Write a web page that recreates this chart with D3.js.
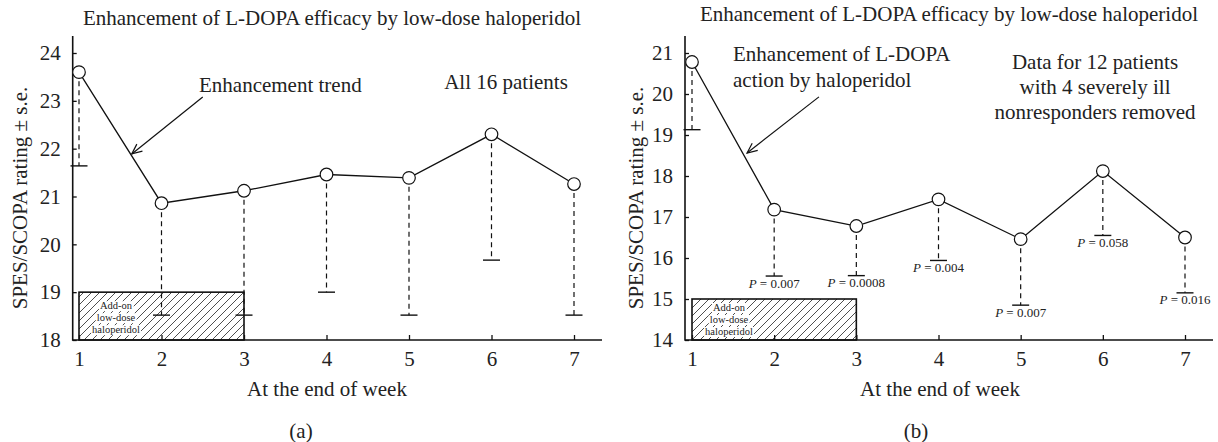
<!DOCTYPE html>
<html>
<head>
<meta charset="utf-8">
<script src="https://cdn.jsdelivr.net/npm/d3@7"></script>
<style>
  html, body { margin: 0; padding: 0; background: #fff; }
</style>
</head>
<body>
<div id="chart"></div>
<script>
"use strict";

const WIDTH = 1218, HEIGHT = 442;

// data
var weeks = [1, 2, 3, 4, 5, 6, 7];
var meanAll = [23.6, 20.86, 21.12, 21.46, 21.39, 22.3, 21.26];
var lowerAll = [21.64, 18.52, 18.52, 19.0, 18.52, 19.67, 18.52];
var meanSub = [20.78, 17.18, 16.78, 17.43, 16.46, 18.12, 16.5];
var lowerSub = [19.13, 15.56, 15.57, 15.94, 14.85, 16.55, 15.15];
var pValues = ["", "0.007", "0.0008", "0.004", "0.007", "0.058", "0.016"];
var yTicksAll = [18, 19, 20, 21, 22, 23, 24];
var yTicksSub = [14, 15, 16, 17, 18, 19, 20, 21];
var boxLines = ["Add-on", "low-dose", "haloperidol"];
var title = "Enhancement of L-DOPA efficacy by low-dose haloperidol";
var yLabel = "SPES/SCOPA rating \u00b1 s.e.";
var xLabel = "At the end of week";

const FONT = "'Liberation Serif', 'DejaVu Serif', serif";

var svg = d3.select("#chart").append("svg")
  .attr("width", WIDTH)
  .attr("height", HEIGHT)
  .attr("font-family", FONT)
  .style("display", "block");

var defs = svg.append("defs");
var hatch = defs.append("pattern")
  .attr("id", "hatch")
  .attr("patternUnits", "userSpaceOnUse")
  .attr("width", 8)
  .attr("height", 8);
hatch.append("rect").attr("width", 8).attr("height", 8).attr("fill", "#fff");
hatch.append("path")
  .attr("d", "M0,8 L8,0 M-2,2 L2,-2 M6,10 L10,6")
  .attr("stroke", "#222")
  .attr("stroke-width", 0.8);

function arrow(g, x1, y1, x2, y2) {
  var a = Math.atan2(y2 - y1, x2 - x1), len = 11, spread = 0.42;
  g.append("line")
    .attr("x1", x1).attr("y1", y1).attr("x2", x2).attr("y2", y2)
    .attr("stroke", "#111").attr("stroke-width", 1.2);
  g.append("path")
    .attr("d", "M" + (x2 - len * Math.cos(a - spread)) + "," + (y2 - len * Math.sin(a - spread)) +
      "L" + x2 + "," + y2 +
      "L" + (x2 - len * Math.cos(a + spread)) + "," + (y2 - len * Math.sin(a + spread)))
    .attr("fill", "none").attr("stroke", "#111").attr("stroke-width", 1.2);
}

function panel(o) {
  var x = d3.scaleLinear().domain([1, 7]).range(o.xRange);
  var y = d3.scaleLinear().domain(o.yDomain).range([340, 53]);
  var g = svg.append("g");

  // add-on period box
  var y0 = o.yDomain[0];
  g.append("rect")
    .attr("x", x(1)).attr("y", y(y0 + 1))
    .attr("width", x(3) - x(1)).attr("height", y(y0) - y(y0 + 1))
    .attr("fill", "url(#hatch)")
    .attr("stroke", "#111").attr("stroke-width", 1.6);
  var boxText = g.append("g");
  boxLines.forEach(function (t, i) {
    var tx = boxText.append("text")
      .attr("x", o.boxTextX).attr("y", y(y0 + 1) + o.boxTextTop + i * 12)
      .attr("text-anchor", "middle")
      .attr("font-size", 10.5)
      .attr("fill", "#222")
      .text(t);
    var bb = tx.node().getBBox();
    boxText.insert("rect", "text")
      .attr("x", bb.x - 1).attr("y", bb.y + 1)
      .attr("width", bb.width + 2).attr("height", bb.height - 1)
      .attr("fill", "#fff");
  });

  // axes
  var yAxis = d3.axisLeft(y).tickValues(o.yTicks).tickSize(-4).tickSizeOuter(0)
    .tickPadding(12).tickFormat(d3.format("d"));
  g.append("g")
    .attr("transform", "translate(" + o.axisX + ",0)")
    .call(yAxis)
    .call(function (s) { s.select(".domain").remove(); })
    .attr("font-family", FONT).attr("font-size", 21)
    .call(function (s) {
      s.selectAll("line").attr("stroke", "#111").attr("stroke-width", 1.3);
      s.selectAll("text").attr("fill", "#222");
    });
  var xAxis = d3.axisBottom(x).tickValues(weeks).tickSize(-5).tickSizeOuter(0)
    .tickPadding(11).tickFormat(d3.format("d"));
  g.append("g")
    .attr("transform", "translate(0,340)")
    .call(xAxis)
    .call(function (s) { s.select(".domain").remove(); })
    .attr("font-family", FONT).attr("font-size", 21)
    .call(function (s) {
      s.selectAll("line").attr("stroke", "#111").attr("stroke-width", 1.3);
      s.selectAll("text").attr("fill", "#222");
    });
  g.append("line")
    .attr("x1", o.axisX).attr("y1", 36).attr("x2", o.axisX).attr("y2", 340.7)
    .attr("stroke", "#111").attr("stroke-width", 1.6);
  g.append("line")
    .attr("x1", o.axisX).attr("y1", 340).attr("x2", o.xEnd).attr("y2", 340)
    .attr("stroke", "#111").attr("stroke-width", 1.6);

  // error bars
  weeks.forEach(function (w, i) {
    g.append("line")
      .attr("x1", x(w)).attr("y1", y(o.mean[i]))
      .attr("x2", x(w)).attr("y2", y(o.lower[i]))
      .attr("stroke", "#111").attr("stroke-width", 1.2)
      .attr("stroke-dasharray", "5,4");
    g.append("line")
      .attr("x1", x(w) - 8.5).attr("y1", y(o.lower[i]))
      .attr("x2", x(w) + 8.5).attr("y2", y(o.lower[i]))
      .attr("stroke", "#111").attr("stroke-width", 1.4);
    if (o.pLabels && o.pLabels[i]) {
      var t = g.append("text")
        .attr("x", x(w)).attr("y", y(o.lower[i]) + 11.5)
        .attr("text-anchor", "middle")
        .attr("font-size", 13)
        .attr("fill", "#222");
      t.append("tspan").attr("font-style", "italic").text("P");
      t.append("tspan").text(" = " + o.pLabels[i]);
    }
  });

  // mean line and markers
  var line = d3.line()
    .x(function (d, i) { return x(weeks[i]); })
    .y(function (d) { return y(d); });
  g.append("path")
    .datum(o.mean)
    .attr("d", line)
    .attr("fill", "none").attr("stroke", "#111").attr("stroke-width", 1.3);
  g.selectAll("circle.pt")
    .data(o.mean)
    .enter().append("circle")
    .attr("class", "pt")
    .attr("cx", function (d, i) { return x(weeks[i]); })
    .attr("cy", function (d) { return y(d); })
    .attr("r", 6.3)
    .attr("fill", "#fff").attr("stroke", "#111").attr("stroke-width", 1.2);

  // arrow annotation in data units
  arrow(g, x(o.arrow[0]), y(o.arrow[1]), x(o.arrow[2]), y(o.arrow[3]));

  // texts
  g.append("text")
    .attr("x", o.titleX).attr("y", o.titleY)
    .attr("text-anchor", "middle").attr("font-size", 21).attr("fill", "#222")
    .text(title);
  g.append("text")
    .attr("transform", "translate(" + o.yLabelX + ",198) rotate(-90)")
    .attr("dy", "0.35em")
    .attr("text-anchor", "middle").attr("font-size", 21).attr("fill", "#222")
    .text(yLabel);
  g.append("text")
    .attr("x", o.xLabelX).attr("y", 396)
    .attr("text-anchor", "middle").attr("font-size", 21).attr("fill", "#222")
    .text(xLabel);
  g.append("text")
    .attr("x", o.tagX).attr("y", 438)
    .attr("text-anchor", "middle").attr("font-size", 21).attr("fill", "#222")
    .text(o.tag);
  o.notes.forEach(function (n) {
    g.append("text")
      .attr("x", n.x).attr("y", n.y)
      .attr("text-anchor", n.anchor).attr("font-size", 21).attr("fill", "#222")
      .text(n.text);
  });
}

panel({
  xRange: [79, 574], yDomain: [18, 24], yTicks: yTicksAll,
  axisX: 72.7, xEnd: 602,
  mean: meanAll, lower: lowerAll, pLabels: null,
  boxTextX: 116, boxTextTop: 17,
  arrow: [2.5, 23.08, 1.64, 21.89],
  titleX: 332, titleY: 25, yLabelX: 20, xLabelX: 327, tagX: 301, tag: "(a)",
  notes: [
    { x: 199, y: 92, anchor: "start", text: "Enhancement trend" },
    { x: 506, y: 89, anchor: "middle", text: "All 16 patients" }
  ]
});

panel({
  xRange: [692, 1185], yDomain: [14, 21], yTicks: yTicksSub,
  axisX: 685, xEnd: 1213,
  mean: meanSub, lower: lowerSub, pLabels: pValues,
  boxTextX: 729, boxTextTop: 12,
  arrow: [2.545, 19.93, 1.67, 18.56],
  titleX: 949, titleY: 21, yLabelX: 636, xLabelX: 940, tagX: 916, tag: "(b)",
  notes: [
    { x: 733, y: 61, anchor: "start", text: "Enhancement of L-DOPA" },
    { x: 733, y: 87, anchor: "start", text: "action by haloperidol" },
    { x: 1095, y: 69, anchor: "middle", text: "Data for 12 patients" },
    { x: 1095, y: 94, anchor: "middle", text: "with 4 severely ill" },
    { x: 1095, y: 119, anchor: "middle", text: "nonresponders removed" }
  ]
});
</script>
</body>
</html>
